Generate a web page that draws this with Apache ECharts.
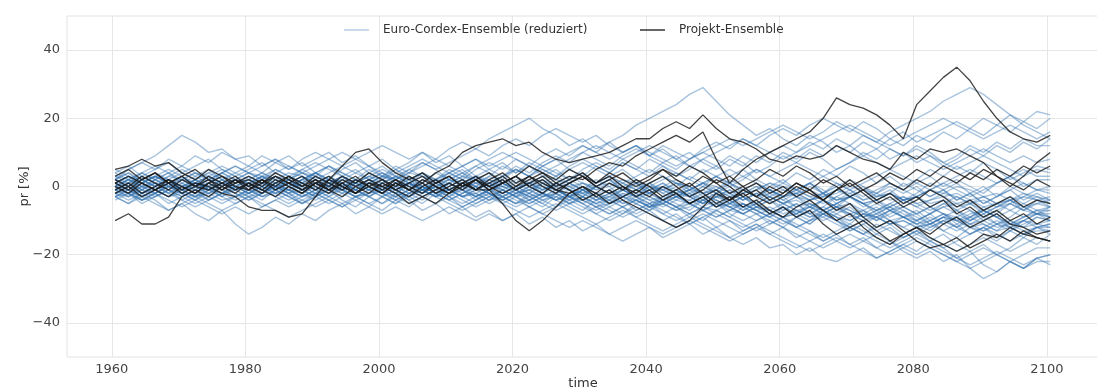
<!DOCTYPE html>
<html>
<head>
<meta charset="utf-8">
<script src="https://cdn.jsdelivr.net/npm/echarts@6/dist/echarts.min.js"></script>
<style>html,body{margin:0;padding:0;background:#fff}#c{width:1097px;height:392px}</style>
</head>
<body>
<div id="c"></div>
<script>
// time axis (two-year steps)
const years = [1960.5,1962.5,1964.5,1966.5,1968.5,1970.5,1972.5,1974.5,1976.5,1978.5,
1980.5,1982.5,1984.5,1986.5,1988.5,1990.5,1992.5,1994.5,1996.5,1998.5,
2000.5,2002.5,2004.5,2006.5,2008.5,2010.5,2012.5,2014.5,2016.5,2018.5,
2020.5,2022.5,2024.5,2026.5,2028.5,2030.5,2032.5,2034.5,2036.5,2038.5,
2040.5,2042.5,2044.5,2046.5,2048.5,2050.5,2052.5,2054.5,2056.5,2058.5,
2060.5,2062.5,2064.5,2066.5,2068.5,2070.5,2072.5,2074.5,2076.5,2078.5,
2080.5,2082.5,2084.5,2086.5,2088.5,2090.5,2092.5,2094.5,2096.5,2098.5,2100.5];

const xTicks = [1960,1980,2000,2020,2040,2060,2080,2100];
const yTicks = [-40,-20,0,20,40];

// Euro-Cordex-Ensemble (reduziert), pr [%]
const ec01 = [2,5,7,9,12,15,13,10,11,8, 9,6,8,5,7,4,6,3,5,2, 4,1,3,0,2,-1,1,3,0,2, -1,1,-2,0,-3,-1,-4,-2,0,-3, -1,-4,-2,-5,-3,-6,-4,-7,-5,-8, -6,-9,-7,-4,-6,-3,-5,-8,-6,-9, -7,-10,-8,-11,-9,-6,-8,-5,-7,-4,-6];
const ec02 = [-3,-5,-2,-4,-7,-5,-8,-10,-7,-11, -14,-12,-9,-11,-8,-10,-7,-5,-8,-6, -3,-5,-2,-4,-1,-3,0,-2,-4,-1, -3,0,-2,1,-1,-3,0,2,-1,1, -2,0,-3,-1,-4,-2,-5,-3,-6,-8, -6,-9,-11,-8,-10,-13,-11,-14,-12,-15, -13,-16,-14,-17,-19,-17,-20,-18,-15,-17,-14];
const ec03 = [1,3,0,2,4,1,3,5,2,4, 6,4,7,9,6,8,10,7,9,6, 8,5,7,10,8,11,13,11,14,16, 18,20,17,15,12,14,11,13,10,12, 9,11,8,10,7,5,8,6,9,7, 10,8,11,9,12,10,13,11,14,12, 15,13,16,14,17,15,18,16,19,17,20];
const ec04 = [-1,1,-2,0,2,-1,1,3,0,2, -1,1,3,0,2,4,1,3,0,2, 4,2,5,3,1,4,2,5,7,5, 8,6,9,11,9,12,10,13,15,18, 20,22,24,27,29,25,21,18,15,17, 14,12,15,13,10,12,9,11,8,10, 7,9,6,8,11,9,12,10,13,11,14];
const ec05 = [0,-2,1,3,1,-1,2,0,-2,1, 3,1,-1,2,4,2,0,3,1,4, 2,5,3,1,4,2,0,3,5,3, 6,4,7,9,7,10,8,6,9,11, 9,12,10,8,11,13,11,14,12,15, 17,15,18,20,18,16,19,17,14,16, 13,15,17,19,17,20,18,21,19,22,21];
const ec06 = [-2,0,-3,-1,1,-2,-4,-1,-3,0, -2,-4,-1,-3,-5,-2,-4,-6,-3,-5, -7,-4,-6,-3,-5,-8,-6,-9,-7,-10, -8,-11,-9,-12,-10,-13,-11,-14,-16,-14, -12,-15,-13,-11,-14,-12,-15,-17,-15,-18, -17,-20,-18,-21,-22,-20,-18,-21,-19,-17, -19,-16,-18,-21,-19,-23,-25,-22,-24,-21,-20];
const ec07 = [0,2,-1,1,-2,0,2,-1,1,-1, 1,-2,0,2,-1,-3,0,-2,1,-1, -3,-1,-4,-2,0,-3,-1,-4,-2,-5, -3,-6,-4,-2,-5,-3,-6,-8,-6,-9, -7,-10,-8,-11,-9,-12,-10,-13,-11,-14, -12,-15,-13,-16,-14,-17,-15,-18,-16,-19, -21,-19,-22,-20,-24,-27,-25,-22,-24,-21,-23];
const ec08 = [3,1,4,2,0,3,1,-1,2,0, -2,1,-1,2,0,-2,1,3,0,2, -1,1,3,0,-2,1,-1,2,0,-3, -1,-4,-2,1,-1,-3,0,-2,-5,-3, -6,-4,-1,-3,0,-2,-5,-3,-6,-4, -7,-5,-8,-6,-3,-5,-8,-6,-9,-7, -10,-8,-5,-7,-10,-8,-11,-9,-6,-8,-8];
const ec09 = [4,6,3,5,7,4,6,8,5,3, 5,7,4,2,5,3,6,4,2,5, 3,6,4,7,5,2,4,1,3,6, 4,7,5,3,6,8,6,4,7,5, 3,6,4,2,5,3,0,2,5,3, 1,4,2,5,3,6,4,1,3,0, 2,5,3,6,4,7,5,2,4,6,5];
const ec10 = [-4,-2,-5,-3,-1,-4,-2,0,-3,-5, -3,-6,-4,-2,-5,-3,-1,-4,-6,-3, -5,-2,-4,-7,-5,-3,-6,-4,-1,-3, -5,-2,-4,-6,-3,-5,-8,-6,-4,-7, -5,-8,-6,-9,-7,-5,-8,-10,-8,-11, -9,-12,-10,-7,-9,-12,-10,-13,-11,-14, -12,-10,-13,-11,-14,-12,-15,-13,-10,-12,-12];
const ec11 = [1,-1,2,0,3,5,3,1,4,2, 0,3,1,-1,2,0,-2,1,-1,2, 0,-2,1,-1,2,4,2,0,3,1, -1,2,0,-2,1,-1,2,0,-3,-1, 1,-2,0,3,1,-1,2,0,-3,-1, -4,-2,1,-1,-4,-2,0,-3,-1,-4, -2,1,-1,-4,-2,-5,-3,0,-2,-4,-3];
const ec12 = [-1,-3,0,-2,1,-1,-3,0,2,-1, 1,3,0,2,-1,1,3,1,-1,-3, 0,-2,1,-1,-3,0,2,0,-2,1, -1,-3,-5,-2,-4,-1,-3,-5,-2,-4, -6,-3,-5,-7,-4,-6,-3,-5,-7,-9, -6,-8,-5,-7,-9,-11,-8,-10,-7,-9, -11,-13,-10,-12,-9,-11,-13,-10,-12,-9,-10];
const ec13 = [2,4,1,3,5,3,0,2,4,6, 4,2,5,3,1,4,2,5,7,4, 6,3,1,4,2,5,3,6,4,2, 5,3,6,8,5,3,6,4,7,5, 8,6,3,5,8,6,9,7,4,6, 9,7,10,8,5,7,10,8,11,9, 12,10,7,9,12,10,13,11,14,12,12];
const ec14 = [-3,-1,-4,-2,-5,-3,-1,-4,-2,0, -2,0,-3,-1,1,-1,-3,0,-2,0, -2,0,2,-1,1,-1,-3,-1,1,-2, 0,-2,1,-1,-3,0,-2,-4,-1,-3, 0,-2,-4,-2,-5,-3,-1,-4,-2,-5, -3,-6,-4,-2,-5,-3,-6,-4,-7,-5, -3,-6,-4,-7,-5,-8,-6,-4,-7,-5,-6];
const ec15 = [1,3,1,-1,1,3,0,-2,0,2, 0,-2,1,-1,-3,-1,1,-1,-3,-5, -3,-1,-3,-5,-2,-4,-2,0,-2,-4, -2,-4,-6,-3,-5,-7,-4,-6,-8,-5, -7,-4,-6,-8,-10,-7,-9,-6,-8,-10, -12,-9,-11,-8,-10,-12,-14,-11,-13,-15, -13,-11,-13,-15,-12,-14,-16,-13,-15,-12,-14];
const ec16 = [-2,0,2,0,-2,1,-1,1,3,1, 3,1,-1,1,-1,-3,-1,1,-1,1, 3,1,-1,2,0,-2,0,-3,-1,1, -1,1,3,0,2,4,1,3,1,-1, 1,3,1,-2,0,-2,1,-1,1,-1, -3,-1,1,-2,0,2,0,-2,1,-1, 1,3,0,2,0,-2,1,3,0,2,2];
const ec17 = [0,-2,-4,-2,0,-2,0,2,0,-2, -4,-2,0,-2,1,-1,-3,-1,1,-1, 1,3,1,-1,-3,-1,-3,-5,-3,-1, -3,-5,-3,-1,-3,-5,-7,-5,-3,-5, -3,-5,-7,-5,-7,-9,-7,-5,-7,-9, -7,-5,-8,-10,-8,-6,-9,-7,-10,-12, -10,-8,-11,-9,-7,-10,-8,-11,-9,-7,-9];
const ec18 = [3,5,7,5,8,6,9,7,10,8, 6,9,7,5,8,10,8,6,4,6, 3,5,2,4,1,3,5,2,4,1, 3,0,2,-1,1,3,0,2,-1,1, -2,0,2,-1,1,-2,0,-3,-1,1, -1,-3,0,-2,1,-1,-4,-2,0,-2, 0,-3,-1,1,-2,0,-3,-1,1,-1,-1];
const ec19 = [-1,1,-1,-3,-1,1,-1,-3,-5,-3, -1,-3,-1,1,-1,-3,-5,-3,-1,-3, -1,1,-1,-3,-1,-3,-5,-3,-1,-3, -5,-3,-5,-7,-5,-3,-5,-7,-9,-7, -5,-7,-9,-11,-9,-7,-9,-11,-13,-11, -9,-11,-13,-15,-13,-11,-13,-15,-17,-15, -13,-15,-17,-19,-17,-15,-17,-19,-17,-15,-16];
const ec20 = [2,0,2,4,2,0,2,4,6,4, 2,4,2,0,2,4,6,4,2,0, 2,4,6,8,6,4,6,3,1,3, 5,3,1,3,5,7,5,3,5,2, 0,2,4,2,0,3,1,3,5,3, 5,7,5,3,5,7,9,7,5,7, 9,7,5,7,9,11,9,7,9,7,8];
const ec21 = [-2,-4,-2,0,-2,-4,-6,-4,-2,-4, -2,0,-2,-4,-2,0,2,0,-2,0, -2,-4,-2,0,-2,-4,-2,0,-2,-4, -6,-4,-2,-4,-6,-8,-6,-4,-6,-8, -6,-4,-6,-8,-6,-4,-6,-8,-10,-8, -10,-12,-10,-8,-10,-12,-14,-12,-10,-12, -14,-12,-10,-12,-14,-12,-10,-12,-14,-12,-11];
const ec22 = [1,-1,1,3,1,-1,1,-1,-3,-1, 1,3,5,3,1,3,1,-1,1,3, 5,3,5,7,5,7,9,11,9,12, 14,12,15,17,15,13,15,12,10,12, 9,7,9,6,4,6,3,5,2,0, 2,-1,1,-2,0,-3,-1,-4,-2,1, -1,-3,-1,-4,-2,-5,-3,-1,-4,-2,-4];
const ec23 = [-1,-3,-1,1,-1,-3,-5,-3,-1,1, -1,-3,-1,-3,-5,-3,-1,1,-1,-3, -5,-3,-1,1,-1,1,-1,-3,-1,1, -1,-3,-1,1,-1,-3,-5,-3,-1,-3, -5,-3,-1,-3,-5,-3,-5,-7,-5,-3, -5,-7,-9,-7,-5,-7,-9,-7,-5,-7, -9,-11,-9,-7,-9,-7,-5,-7,-9,-7,-7];
const ec24 = [0,2,0,-2,0,2,4,2,0,2, 4,2,0,-2,0,2,0,2,4,2, 0,2,0,-2,0,2,4,2,0,3, 5,3,6,4,2,5,7,5,8,6, 4,7,5,8,10,8,6,9,7,10, 12,10,13,11,14,12,15,13,16,18, 20,22,25,27,29,27,24,21,18,16,14];
const ec25 = [2,0,-2,0,2,0,-2,-4,-2,0, 2,0,-2,0,2,4,2,0,-2,0, -2,-4,-2,0,-2,-4,-6,-4,-2,-4, -2,0,-2,-4,-2,-4,-6,-8,-6,-4, -6,-8,-10,-8,-6,-8,-10,-12,-10,-8, -10,-12,-14,-16,-14,-12,-14,-16,-18,-16, -14,-16,-18,-16,-14,-12,-14,-16,-14,-12,-13];
const ec26 = [-3,-5,-3,-1,-3,-1,1,-1,1,-1, -3,-1,1,3,1,-1,1,3,1,-1, 1,-1,-3,-1,1,-1,1,3,1,-1, -3,-1,1,-1,-3,-1,-3,-5,-3,-1, 1,-1,-3,-1,1,3,1,-1,-3,-1, 1,-1,-3,-5,-3,-1,-3,-1,1,-1, -3,-1,1,-1,-3,-1,1,3,1,-1,0];
const ec27 = [0,-2,0,2,0,-2,-4,-2,0,-2, -4,-2,0,-2,-4,-6,-4,-2,-4,-2, 0,-2,0,2,0,-2,-4,-6,-4,-2, -4,-6,-8,-6,-4,-6,-8,-10,-8,-6, -8,-10,-12,-10,-8,-10,-12,-14,-12,-10, -12,-14,-16,-18,-16,-14,-16,-18,-20,-18, -16,-18,-20,-22,-20,-18,-20,-22,-20,-18,-18];
const ec28 = [4,2,4,6,4,2,0,2,4,2, 0,2,4,6,4,2,4,6,8,6, 4,2,4,6,8,6,4,6,8,10, 8,6,4,6,8,10,12,10,8,10, 12,10,8,6,8,10,12,14,12,10, 8,10,12,14,16,18,16,14,12,14, 16,18,20,18,16,14,16,18,16,14,16];
const ec29 = [-1,1,3,1,-1,-3,-1,1,-1,-3, -1,1,-1,-3,-1,1,3,1,-1,1, -1,-3,-5,-3,-1,1,-1,-3,-5,-3, -1,1,-1,1,3,1,-1,1,-1,-3, -1,1,-1,-3,-5,-3,-1,-3,-5,-3, -1,-3,-5,-7,-5,-3,-5,-7,-5,-3, -5,-7,-5,-3,-5,-7,-9,-7,-5,-3,-5];
const ec30 = [-3,-1,-3,-5,-7,-5,-3,-5,-7,-5, -3,-5,-7,-9,-7,-5,-3,-5,-3,-1, -3,-5,-3,-1,-3,-5,-7,-5,-3,-5, -7,-9,-7,-5,-7,-9,-11,-9,-7,-9, -11,-13,-11,-9,-11,-13,-15,-13,-11,-13, -15,-17,-19,-17,-15,-17,-19,-21,-19,-17, -15,-17,-19,-21,-23,-21,-19,-21,-23,-21,-20];
const ec31 = [5,3,1,3,1,-1,1,3,5,3, 1,-1,1,3,5,7,5,3,1,3, 1,-1,1,-1,-3,-1,1,-1,1,3, 1,3,5,3,1,-1,1,3,1,3, 5,3,1,-1,1,3,5,3,1,-1, -3,-1,1,3,1,-1,1,3,5,3, 1,-1,1,3,5,3,1,3,5,3,3];
const ec32 = [1,-1,-3,-1,1,-1,-3,-1,1,-1, 1,-1,-3,-5,-3,-1,1,-1,-3,-1, 1,3,1,-1,1,-1,-3,-1,1,-1, -3,-5,-3,-1,-3,-5,-3,-1,-3,-5, -7,-5,-3,-5,-7,-9,-7,-5,-7,-9, -11,-9,-7,-9,-11,-13,-11,-9,-7,-9, -11,-9,-11,-13,-11,-9,-11,-13,-11,-9,-10];
const ec33 = [0,2,4,2,4,6,4,2,4,6, 4,6,8,6,4,6,8,10,8,10, 12,10,8,10,7,9,6,8,5,7, 4,6,3,5,2,4,1,3,0,2, -1,1,-2,0,-3,-1,1,-2,0,-3, -5,-3,-6,-8,-6,-9,-7,-10,-8,-6, -8,-11,-9,-12,-10,-7,-9,-12,-10,-8,-9];
const ec34 = [-2,0,-2,0,2,0,2,4,2,0, 2,0,-2,0,2,4,2,0,2,0, -2,0,2,4,2,4,6,8,6,8, 10,8,6,8,10,12,10,8,10,12, 10,8,6,8,10,12,14,12,14,16, 18,16,14,16,19,17,15,13,11,9, 11,9,7,5,7,9,7,5,3,5,4];
const ec35 = [0,-2,-4,-2,-4,-6,-4,-6,-8,-6, -8,-6,-4,-6,-4,-2,-4,-6,-4,-6, -8,-6,-8,-10,-8,-6,-8,-10,-8,-10, -8,-6,-8,-10,-12,-10,-12,-14,-12,-10, -12,-14,-12,-10,-12,-14,-16,-14,-12,-14, -16,-18,-16,-14,-16,-18,-16,-14,-16,-18, -20,-18,-20,-22,-24,-22,-20,-22,-24,-22,-22];
const ec36 = [2,4,2,0,2,0,-2,0,2,0, -2,0,2,0,-2,-4,-2,0,-2,0, 2,0,-2,0,-2,0,2,0,-2,-4, -2,0,-2,-4,-2,0,-2,-4,-6,-4, -2,-4,-6,-4,-2,-4,-6,-8,-6,-4, -6,-8,-6,-4,-6,-8,-10,-8,-6,-8, -10,-8,-6,-8,-10,-8,-6,-4,-6,-8,-6];
const ec37 = [0,1,-1,2,0,-2,1,3,1,-1, 0,2,-1,1,3,1,-1,0,2,0, -2,0,1,-1,1,3,1,-1,-3,-1, 1,-1,-3,-2,0,-2,-4,-2,0,-2, -4,-3,-1,-3,-5,-3,-4,-6,-4,-2, -4,-6,-5,-7,-5,-3,-5,-7,-6,-4, -6,-8,-6,-5,-7,-9,-7,-5,-7,-8,-7];
const ec38 = [-2,-1,1,-1,-3,-1,0,-2,0,2, 1,-1,1,-1,-2,0,2,1,-1,-3, -1,1,0,-2,0,1,-1,1,2,0, -2,-1,1,-1,-3,-2,0,-2,-3,-1, -3,-5,-3,-2,-4,-6,-5,-3,-5,-7, -5,-4,-6,-8,-6,-5,-7,-9,-7,-6, -8,-6,-8,-10,-8,-7,-9,-11,-9,-8,-9];
const ec39 = [1,3,2,0,2,4,2,0,1,-1, 1,2,0,-1,1,3,1,-1,0,2, 1,-1,1,3,2,0,-2,0,2,1, -1,1,-1,0,2,0,-2,-1,1,-1, -2,0,-2,-3,-1,-3,-2,-4,-2,-1, -3,-2,-4,-3,-1,-3,-5,-4,-2,-4, -6,-4,-3,-5,-4,-6,-5,-3,-5,-7,-6];
const ec40 = [-1,0,-2,-1,1,0,-1,1,-1,-3, -2,0,-1,1,0,-2,-1,1,2,0, -1,-3,-1,0,-2,-1,1,0,-2,-3, -1,-3,-2,-4,-3,-1,-3,-5,-4,-2, -4,-6,-4,-5,-7,-5,-6,-8,-6,-7, -9,-7,-8,-6,-8,-10,-8,-9,-11,-9, -10,-12,-10,-9,-11,-13,-11,-10,-12,-11,-12];
const ec41 = [2,1,3,1,0,2,1,-1,1,0, 2,4,2,1,3,1,0,2,0,-1, 1,3,2,0,2,1,3,2,0,1, 3,1,2,0,-1,1,0,2,0,-2, 0,-1,-3,-1,-2,0,-2,-4,-2,-3, -5,-3,-4,-2,-4,-3,-5,-4,-6,-4, -3,-5,-4,-6,-5,-3,-5,-4,-6,-5,-4];
const ec42 = [0,-1,-3,-2,0,-1,1,0,-2,-1, -3,-2,0,-1,-3,-1,0,-2,-1,1, 0,-2,-3,-1,0,-2,0,1,-1,-2, 0,-2,-4,-3,-1,-2,-4,-3,-1,-3, -2,-4,-3,-5,-4,-2,-4,-6,-5,-3, -5,-7,-6,-4,-6,-8,-7,-5,-7,-9, -8,-6,-8,-10,-9,-7,-9,-11,-10,-8,-10];
const ec43 = [3,2,0,1,3,2,4,3,1,2, 0,1,3,2,0,1,-1,0,2,1, 3,2,0,1,-1,1,3,1,0,2, 0,1,-1,1,0,-2,0,1,-1,0, -2,-1,1,0,-2,-1,-3,-2,0,-1, -3,-2,-4,-3,-1,-2,-4,-3,-2,-4, -3,-1,-3,-2,-4,-3,-5,-4,-2,-3,-4];
const ec44 = [-3,-2,-4,-3,-1,-2,-3,-1,-2,0, -1,-3,-2,-1,-3,-2,0,-1,-3,-2, -1,0,-2,-1,-3,-2,-1,-3,-1,0, -2,-1,-3,-2,-4,-3,-5,-4,-2,-3, -5,-4,-6,-5,-3,-4,-6,-5,-7,-6, -8,-7,-9,-8,-6,-7,-9,-8,-10,-9, -11,-10,-8,-9,-11,-10,-12,-11,-13,-12,-11];
const ec45 = [1,0,2,3,1,2,0,1,3,2, 4,3,1,2,4,3,1,2,0,1, 3,2,4,3,1,2,0,-1,1,0, 2,1,3,2,0,1,-1,0,2,1, -1,0,-2,-1,1,0,-2,-1,-3,-2, 0,-1,-3,-2,-4,-3,-1,-2,-4,-3, -5,-4,-2,-3,-5,-4,-6,-5,-3,-4,-5];
const ec46 = [-1,-2,0,-1,-3,-2,0,-1,1,0, -1,1,0,-2,-1,1,0,-1,-3,-2, 0,-1,1,0,-2,-1,-3,-2,0,-1, -3,-2,0,-1,-3,-4,-2,-3,-5,-4, -6,-5,-3,-4,-6,-7,-5,-6,-8,-7, -9,-8,-6,-7,-9,-10,-8,-9,-11,-10, -12,-11,-9,-10,-12,-13,-11,-12,-14,-13,-13];
const ec47 = [0,2,1,3,2,0,1,-1,0,2, 1,3,2,4,3,1,2,0,1,3, 2,0,1,-1,0,2,1,3,2,0, -1,1,0,2,1,-1,0,-2,-1,1, 0,-1,1,0,-2,-1,-3,-2,-1,1, 0,-2,-1,-3,-2,0,-1,-3,-2,-4, -3,-1,-2,0,-1,-3,-2,-4,-3,-1,-2];
const ec48 = [-2,-3,-1,-2,0,-1,-3,-2,-4,-3, -1,-2,0,1,-1,0,-2,-1,1,0, -2,-3,-1,-2,0,-1,-3,-2,-4,-3, -5,-4,-2,-3,-5,-4,-6,-5,-3,-4, -6,-5,-7,-6,-4,-5,-7,-8,-6,-7, -9,-8,-10,-9,-7,-8,-10,-9,-11,-10, -12,-11,-9,-10,-12,-11,-13,-12,-10,-11,-10];

// Projekt-Ensemble, pr [%]
const pj1 = [1,3,1,-1,2,0,-2,1,3,0, -1,2,0,3,1,-1,2,0,-2,1, 0,2,-1,1,-2,0,2,-1,1,3, 0,2,4,1,3,2,5,7,6,9, 11,13,15,13,16,8,1,5,8,10, 12,14,16,20,26,24,23,21,18,14, 24,28,32,35,31,25,20,16,14,13,15];
const pj2 = [3,5,2,4,1,3,0,2,-1,1, 2,0,3,1,-1,2,0,3,1,4, 2,0,3,1,4,6,10,12,13,14, 12,13,10,8,7,8,9,10,12,14, 14,17,19,17,21,17,14,13,11,8, 7,9,8,9,12,10,8,7,5,10, 8,11,10,11,9,7,3,0,3,7,10];
const pj3 = [-10,-8,-11,-11,-9,-3,-1,-3,0,-2, 1,-1,2,0,-2,1,-1,2,0,-2, 1,-1,-3,0,2,-1,1,3,0,2, -1,1,3,0,2,4,1,3,0,-2, 1,3,0,-3,-1,2,0,-3,-1,-4, -2,1,-1,-4,-1,2,-1,1,4,2, 5,3,6,4,2,5,3,1,-1,2,0];
const pj4 = [5,6,8,6,7,4,2,5,3,1, 3,1,4,2,0,3,1,-1,2,0, -2,1,-1,2,0,-2,1,-1,2,4, 1,3,0,-2,1,3,0,2,4,1, 3,5,2,0,3,1,-2,0,-3,-5, -3,0,-2,-4,-1,1,-2,-5,-3,-6, -4,-1,-3,-6,-4,-7,-5,-3,-6,-4,-5];
const pj5 = [-1,1,-2,0,2,-1,1,0,-2,-3, -6,-7,-7,-9,-8,-3,2,6,10,11, 7,4,2,4,1,3,0,2,-1,1, 3,0,2,-1,1,3,0,-2,0,-3, -1,-4,-2,-5,-3,-1,-4,-2,-5,-8, -6,-9,-7,-11,-14,-12,-10,-13,-16,-14, -12,-15,-17,-15,-18,-16,-14,-16,-13,-15,-16];
const pj6 = [0,-2,1,-1,-3,0,-2,1,-1,2, 0,-2,1,3,0,2,-1,1,-2,0, 2,-1,1,3,0,-2,1,-1,-1,-5, -10,-13,-10,-6,-2,0,-2,1,-1,2, 0,-3,-1,1,-2,-5,-3,-6,-4,-7, -9,-6,-4,-7,-10,-8,-12,-15,-17,-14, -12,-14,-11,-9,-12,-10,-8,-11,-12,-14,-13];
const pj7 = [2,0,3,1,-1,2,0,3,1,-1, 1,-1,-3,0,-2,1,-1,-3,0,2, 0,-2,-5,-3,-1,1,-1,2,0,-2, 0,3,1,-1,-2,0,-3,-1,-4,-6, -8,-10,-12,-10,-6,-2,-4,-1,1,-2, 0,-3,-1,-4,-7,-5,-9,-12,-10,-13, -16,-18,-17,-19,-17,-14,-15,-12,-14,-15,-16];
const pj8 = [-2,0,-3,-1,1,-2,0,-1,1,3, 0,2,-1,1,3,0,-2,1,3,0, -2,1,-1,-3,-5,-2,0,2,-1,1, 3,0,-2,1,-1,-4,-2,-5,-3,-1, -3,0,-2,-5,-3,-6,-4,-1,-3,0, -2,1,-1,2,0,-3,-1,-4,-2,-5, -3,-6,-4,-8,-6,-9,-7,-10,-8,-11,-9];
const pj9 = [1,-1,2,4,1,3,5,2,0,2, -1,1,3,1,-1,1,3,0,-2,1, -1,2,0,-2,1,3,0,2,4,1, 3,6,4,2,5,3,1,4,2,0, 2,5,3,6,4,1,3,0,2,5, 3,6,4,1,3,0,2,4,1,-1, 2,0,3,1,4,2,5,3,6,4,6];

const cordexRuns = [ec01,ec02,ec03,ec04,ec05,ec06,ec07,ec08,ec09,ec10,ec11,ec12,ec13,ec14,ec15,ec16,ec17,ec18,
  ec19,ec20,ec21,ec22,ec23,ec24,ec25,ec26,ec27,ec28,ec29,ec30,ec31,ec32,ec33,ec34,ec35,ec36,
  ec37,ec38,ec39,ec40,ec41,ec42,ec43,ec44,ec45,ec46,ec47,ec48];
const projektRuns = [pj1,pj2,pj3,pj4,pj5,pj6,pj7,pj8,pj9];

const NAME_EC = 'Euro-Cordex-Ensemble (reduziert)';
const NAME_PJ = 'Projekt-Ensemble';
const FONT = 'DejaVu Sans';

const series = [];
cordexRuns.forEach(run => series.push({
  type: 'line', name: NAME_EC, showSymbol: false, silent: true, animation: false,
  lineStyle: { color: '#2f6fae', opacity: 0.42, width: 1.4 },
  itemStyle: { color: '#b3cbe2' },
  data: years.map((y, i) => [y, run[i]])
}));
projektRuns.forEach(run => series.push({
  type: 'line', name: NAME_PJ, showSymbol: false, silent: true, animation: false,
  lineStyle: { color: '#1a1a1a', opacity: 0.82, width: 1.3 },
  itemStyle: { color: '#333' },
  data: years.map((y, i) => [y, run[i]])
}));

const chart = echarts.init(document.getElementById('c'), null, { renderer: 'canvas' });
const legendCommon = {
  top: 19, icon: 'rect', itemWidth: 25, itemHeight: 1.5,
  textStyle: { fontFamily: FONT, fontSize: 12, color: '#333', padding: [0, 0, 0, 9] },
  selectedMode: false
};
chart.setOption({
  backgroundColor: '#fff',
  animation: false,
  legend: [
    Object.assign({}, legendCommon, { left: 339, data: [{ name: NAME_EC, itemStyle: { color: '#b8cde2' } }] }),
    Object.assign({}, legendCommon, { left: 635, data: [{ name: NAME_PJ, itemStyle: { color: '#333' } }] })
  ],
  grid: { left: 67, right: -2, top: 16, bottom: 35, show: true, borderColor: '#e2e2e2', borderWidth: 1,
    backgroundColor: '#fff', outerBoundsMode: 'none', containLabel: false },
  xAxis: {
    type: 'value', min: 1953.3, max: 2107.8,
    name: 'time', nameLocation: 'middle', nameGap: 20, nameMoveOverlap: false,
    nameTextStyle: { fontFamily: FONT, fontSize: 13, color: '#333' },
    axisLine: { show: false },
    axisTick: { show: false, customValues: xTicks },
    axisLabel: { customValues: xTicks, fontFamily: FONT, fontSize: 13, color: '#444', margin: 6,
      formatter: v => String(v) },
    splitLine: { show: true, lineStyle: { color: '#e6e6e6', width: 1 } }
  },
  yAxis: {
    type: 'value', min: -50, max: 50,
    name: 'pr [%]', nameLocation: 'middle', nameGap: 36, nameRotate: 90, nameMoveOverlap: false,
    nameTextStyle: { fontFamily: FONT, fontSize: 13, color: '#333' },
    axisLine: { show: false },
    axisTick: { show: false, customValues: yTicks },
    axisLabel: { customValues: yTicks, fontFamily: FONT, fontSize: 13, color: '#444', margin: 7,
      formatter: v => String(v).replace('-', '\u2212') },
    splitLine: { show: true, lineStyle: { color: '#e6e6e6', width: 1 } }
  },
  series: series
});
</script>
</body>
</html>
